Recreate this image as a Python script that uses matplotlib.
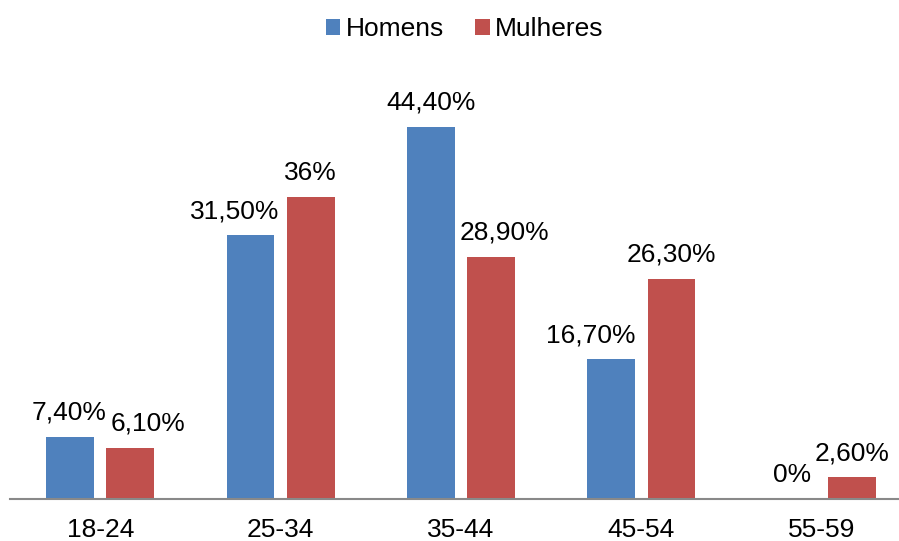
import numpy as np
import matplotlib.pyplot as plt

plt.rcParams['font.family'] = ['Liberation Sans', 'DejaVu Sans']

categories = ['18-24', '25-34', '35-44', '45-54', '55-59']
homens = [7.4, 31.5, 44.4, 16.7, 0.0]
mulheres = [6.1, 36.0, 28.9, 26.3, 2.6]
homens_labels = ['7,40%', '31,50%', '44,40%', '16,70%', '0%']
mulheres_labels = ['6,10%', '36%', '28,90%', '26,30%', '2,60%']

# sideways nudges (px) Excel applied to avoid label collisions
homens_shift = [-1.5, -16, 0, -21, 0]
mulheres_shift = [18, 0, 13, 0, 0]

blue = '#4F81BD'
red = '#C0504D'

fig = plt.figure(figsize=(8.99, 5.41), dpi=100)
ax = fig.add_axes([10 / 899, 42 / 541, 902 / 899, 419 / 541])

x = np.arange(len(categories))
w = 0.265
off = 0.167
b1 = ax.bar(x - off, homens, w, color=blue, label='Homens')
b2 = ax.bar(x + off, mulheres, w, color=red, label='Mulheres')

px = 72 / 100
for xi, v, s, dx in zip(x - off, homens, homens_labels, homens_shift):
    ax.annotate(s, (xi, v), xytext=(dx * px, 17 * px), textcoords='offset points',
                ha='center', va='baseline', fontsize=19)
for xi, v, s, dx in zip(x + off, mulheres, mulheres_labels, mulheres_shift):
    ax.annotate(s, (xi, v), xytext=(dx * px, 17 * px), textcoords='offset points',
                ha='center', va='baseline', fontsize=19)

ax.set_xlim(-0.5, 4.5)
ax.set_ylim(0, 50)
ax.set_xticks(x)
ax.set_xticklabels(categories, fontsize=19)
ax.tick_params(axis='x', length=0, pad=14)
ax.set_yticks([])
for side in ['top', 'right', 'left']:
    ax.spines[side].set_visible(False)
ax.spines['bottom'].set_color('#898989')
ax.spines['bottom'].set_linewidth(1.5)

fig.legend(handles=[b1, b2], loc='center', bbox_to_anchor=(0.517, 0.946),
           ncol=2, frameon=False, fontsize=19, handlelength=0.55,
           handleheight=0.55, handletextpad=0.2, columnspacing=1.2)

fig.savefig('out.png', dpi=100)
